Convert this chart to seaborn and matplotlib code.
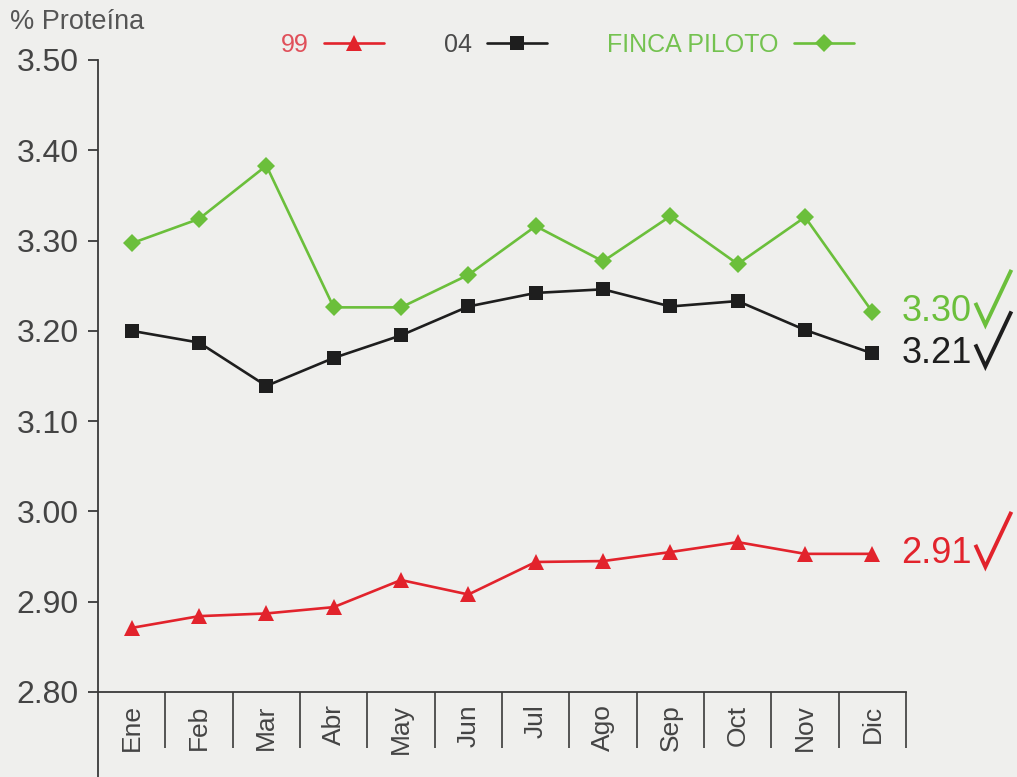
import matplotlib
matplotlib.use("Agg")
import matplotlib.pyplot as plt
from matplotlib.lines import Line2D
from matplotlib.transforms import IdentityTransform
import pandas as pd
import seaborn as sns

# Monthly milk protein (%), per series
meses = ["Ene", "Feb", "Mar", "Abr", "May", "Jun", "Jul", "Ago", "Sep", "Oct", "Nov", "Dic"]
prot_99 = [2.871, 2.884, 2.887, 2.894, 2.924, 2.908, 2.944, 2.945, 2.955, 2.966, 2.953, 2.953]
prot_04 = [3.200, 3.187, 3.139, 3.170, 3.195, 3.227, 3.242, 3.246, 3.227, 3.233, 3.201, 3.175]
prot_finca = [3.297, 3.324, 3.383, 3.226, 3.226, 3.262, 3.316, 3.277, 3.327, 3.274, 3.326, 3.221]
series = ["99", "04", "FINCA PILOTO"]
promedios = ["2.91", "3.21", "3.30"]
y_ticks = [2.80, 2.90, 3.00, 3.10, 3.20, 3.30, 3.40, 3.50]
y_labels = ["2.80", "2.90", "3.00", "3.10", "3.20", "3.30", "3.40", "3.50"]

colores = {"99": "#e2232c", "04": "#1e1e1e", "FINCA PILOTO": "#6bbf3b"}
texto_leyenda = {"99": "#e0505a", "04": "#4a4a4a", "FINCA PILOTO": "#74c250"}
marcadores = {"99": ("^", 11.5), "04": ("s", 9.5), "FINCA PILOTO": ("D", 9.0)}

df = pd.DataFrame({
    "mes": meses * 3,
    "proteina": prot_99 + prot_04 + prot_finca,
    "serie": [s for s in series for _ in meses],
})

sns.set_theme(style="white")
plt.rcParams["font.family"] = ["Liberation Sans", "DejaVu Sans"]

bg = "#efefed"
fig = plt.figure(figsize=(10.17, 7.77), dpi=100, facecolor=bg)
ax = fig.add_axes([0.0964, 0.1094, 0.7945, 0.8134], facecolor=bg)

for s in series:
    m, ms = marcadores[s]
    sns.lineplot(data=df[df["serie"] == s], x="mes", y="proteina", ax=ax,
                 color=colores[s], marker=m, markersize=ms, markeredgewidth=0,
                 linewidth=1.9, legend=False, label=s)

ax.set_xlim(-0.5, len(meses) - 0.5)
ax.set_ylim(y_ticks[0], y_ticks[-1])
ax.set_xlabel("")
ax.set_ylabel("")

# axes and ticks
axis_col = "#3a3a3a"
for side in ("top", "right"):
    ax.spines[side].set_visible(False)
for side in ("left", "bottom"):
    ax.spines[side].set_color(axis_col)
    ax.spines[side].set_linewidth(1.3)
ax.plot([0, 0], [0, -0.16], transform=ax.transAxes, color=axis_col,
        lw=1.3, clip_on=False, solid_capstyle="butt")

ax.set_yticks(y_ticks)
ax.set_yticklabels(y_labels, fontsize=23, color="#444444")
ax.tick_params(axis="y", which="major", left=True, direction="out", length=7,
               width=1.3, color=axis_col, pad=7)

ax.set_xticks(range(len(meses)))
ax.set_xticklabels(meses, rotation=90, fontsize=19, color="#444444")
ax.set_xticks([i + 0.5 for i in range(len(meses))], minor=True)
ax.tick_params(axis="x", which="major", bottom=True, length=0, pad=9)
ax.tick_params(axis="x", which="minor", bottom=True, direction="out", length=40,
               width=1.2, color=axis_col)
for lbl in ax.get_xticklabels():
    lbl.set_verticalalignment("top")

fig.text(0.010, 0.972, "% Proteína", fontsize=19.5, color="#555555", va="center", ha="left")

# legend with text before the marker
handles = ax.get_lines()[:3]
leg = fig.legend(handles, series, loc="center", bbox_to_anchor=(0.558, 0.942),
                 ncol=3, frameon=False, markerfirst=False, fontsize=18,
                 handlelength=2.4, handletextpad=0.6, columnspacing=2.4)
for txt, s in zip(leg.get_texts(), series):
    txt.set_color(texto_leyenda[s])

# annual averages next to the last month, each with a check mark
finales = {"99": prot_99[-1], "04": prot_04[-1], "FINCA PILOTO": prot_finca[-1]}
check_px = [(103, 9), (113, -13), (139, 42)]
for s, p in zip(series, promedios):
    ax.annotate(p, xy=(len(meses) - 1, finales[s]), xytext=(21, 0),
                textcoords="offset points", fontsize=26, color=colores[s],
                va="center", ha="left", annotation_clip=False)
    x0, y0 = ax.transData.transform((len(meses) - 1, finales[s]))
    fig.add_artist(Line2D([x0 + dx for dx, _ in check_px],
                          [y0 + dy for _, dy in check_px],
                          transform=IdentityTransform(), color=colores[s],
                          lw=2.8, solid_joinstyle="miter", solid_capstyle="butt"))

fig.savefig("out.png", dpi=100, facecolor=bg)
